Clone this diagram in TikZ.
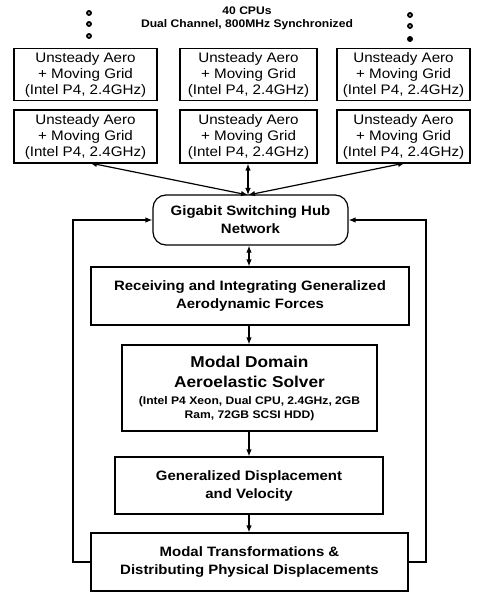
\documentclass[tikz,border=0pt]{standalone}
\usepackage{fontspec}
\setmainfont{Liberation Sans}[FakeStretch=1.1]
\usetikzlibrary{arrows.meta}

\begin{document}
\begin{tikzpicture}[x=1pt,y=-1pt,
  line width=1.2pt,
  cpubox/.style={draw, rectangle, minimum width=#1, minimum height=52pt,
    inner sep=0pt, align=center, font=\fontsize{13.8}{16}\selectfont},
  flowbox/.style={draw, rectangle, inner sep=0pt, align=center,
    font=\bfseries\fontsize{13.6}{18}\selectfont},
  link/.style={{Latex[length=7pt,width=5.5pt]}-{Latex[length=7pt,width=5.5pt]}},
  flow/.style={-{Latex[length=7pt,width=5.5pt]}},
  dot/.style={draw, fill=gray!45, line width=1.8pt}
]
\useasboundingbox (0,0) rectangle (482,593);

% header
\node[align=center, font=\bfseries\fontsize{11}{13}\selectfont] (title) at (247,18.5)
  {40 CPUs\\Dual Channel, 800MHz Synchronized};

% ellipsis dots above the outer columns
\foreach \y in {13,24,36} \draw[dot] (89,\y) circle (2pt);
\foreach \y in {15,26} \draw[dot] (410,\y) circle (2pt);
\fill (410,39) circle (3pt);

% CPU nodes, two rows of three
\node[cpubox=143pt] (l1) at (85.5,74.5) {Unsteady Aero\\+ Moving Grid\\(Intel P4, 2.4GHz)};
\node[cpubox=137pt] (m1) at (248.5,74.5) {Unsteady Aero\\+ Moving Grid\\(Intel P4, 2.4GHz)};
\node[cpubox=133pt] (r1) at (403.5,74.5) {Unsteady Aero\\+ Moving Grid\\(Intel P4, 2.4GHz)};
\node[cpubox=143pt, minimum height=53pt] (l2) at (85.5,136.5) {Unsteady Aero\\+ Moving Grid\\(Intel P4, 2.4GHz)};
\node[cpubox=137pt, minimum height=53pt] (m2) at (248.5,136.5) {Unsteady Aero\\+ Moving Grid\\(Intel P4, 2.4GHz)};
\node[cpubox=133pt, minimum height=53pt] (r2) at (403.5,136.5) {Unsteady Aero\\+ Moving Grid\\(Intel P4, 2.4GHz)};

% switching hub
\node[flowbox, rounded corners=13pt, minimum width=195pt, minimum height=50pt] (hub)
  at (250.5,220) {Gigabit Switching Hub\\Network};

% processing chain
\node[flowbox, minimum width=318pt, minimum height=58pt] (recv) at (250,296)
  {Receiving and Integrating Generalized\\Aerodynamic Forces};
\node[draw, rectangle, minimum width=255pt, minimum height=86pt] (solver) at (249.5,388) {};
\node[font=\bfseries\fontsize{15.7}{20}\selectfont, align=center] (solvername)
  at (249.5,372) {Modal Domain\\Aeroelastic Solver};
\node[font=\bfseries\fontsize{11}{14}\selectfont, align=center] (solverspec)
  at (249.5,408.5) {(Intel P4 Xeon, Dual CPU, 2.4GHz, 2GB\\Ram, 72GB SCSI HDD)};
\node[flowbox, minimum width=268pt, minimum height=57pt] (gen) at (249,485.5)
  {Generalized Displacement\\and Velocity};
\node[flowbox, minimum width=317pt, minimum height=58pt] (modal) at (249.5,562)
  {Modal Transformations \&\\Distributing Physical Displacements};

% hub links to the CPU nodes
\coordinate (hubtop) at (248,195);
\coordinate (lend) at (90,163);
\coordinate (rend) at (405,163);
\draw[link] (hubtop) -- (lend);
\draw[link] (hubtop) -- (m2.south -| hubtop);
\draw[link] (hubtop) -- (rend);

% vertical flow
\draw[link] (hub.south -| 249,0) -- (recv.north -| 249,0);
\draw[flow] (recv.south -| 249,0) -- (solver.north -| 249,0);
\draw[flow] (solver.south -| 249,0) -- (gen.north -| 249,0);
\draw[flow] (gen.south -| 249,0) -- (modal.north -| 249,0);

% feedback loops to the hub
\coordinate (lx) at (73,0);
\coordinate (rx) at (426,0);
\draw[flow] (modal.west) -- (modal.west -| lx) -- (hub.west -| lx) -- (hub.west);
\draw[flow] (modal.east) -- (modal.east -| rx) -- (hub.east -| rx) -- (hub.east);
\end{tikzpicture}
\end{document}
